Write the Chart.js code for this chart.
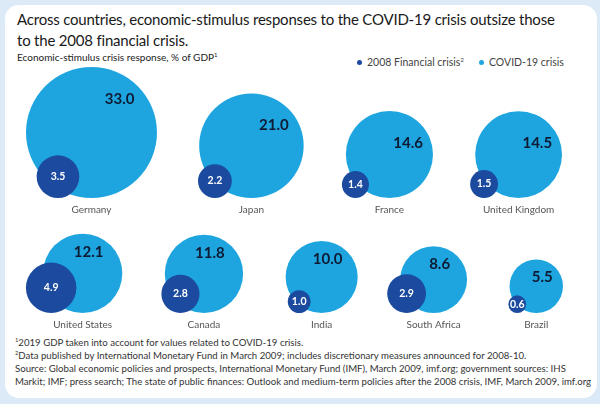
<!DOCTYPE html>
<html>
<head>
<meta charset="utf-8">
<script src="https://cdn.jsdelivr.net/npm/chart.js@4.4.1/dist/chart.umd.min.js"></script>
<style>
  html, body { margin: 0; padding: 0; }
  body { width: 600px; height: 404px; background: #dce9f6; position: relative; overflow: hidden; font-family: Lato, "Open Sans", sans-serif; }
  #card { position: absolute; left: 5px; top: 5px; right: 3px; bottom: 6px; background: #fff; border-radius: 14px; }
  #title { position: absolute; left: 17px; top: 9px; font-size: 15px; letter-spacing: -0.2px; line-height: 21px; color: #1a1a1a; white-space: nowrap; }
  #sub { position: absolute; left: 17px; top: 51px; font-size: 10px; color: #222; white-space: nowrap; }
  #legend { position: absolute; left: 357px; top: 56px; font-size: 10.5px; color: #444; white-space: nowrap; }
  #legend span.dot { display: inline-block; width: 5px; height: 5px; border-radius: 50%; margin-right: 5px; vertical-align: 1px; }
  #legend .item { margin-right: 15px; }
  #notes { position: absolute; left: 15px; top: 336px; font-size: 9.65px; line-height: 13px; color: #333; white-space: nowrap; }
  sup { font-size: 60%; vertical-align: 4px; line-height: 0; }
  #wrap { position: absolute; left: 0; top: 0; width: 600px; height: 404px; }
</style>
</head>
<body>
<div id="card"></div>
<div id="title">Across countries, economic-stimulus responses to the COVID-19 crisis outsize those<br>to the 2008 financial crisis.</div>
<div id="sub">Economic-stimulus crisis response, % of GDP<sup>1</sup></div>
<div id="legend"><span class="item"><span class="dot" style="background:#1c4a9e"></span>2008 Financial crisis<sup>2</sup></span><span><span class="dot" style="background:#1ea5df"></span>COVID-19 crisis</span></div>
<div id="notes">
<sup>1</sup>2019 GDP taken into account for values related to COVID-19 crisis.<br>
<sup>2</sup>Data published by International Monetary Fund in March 2009; includes discretionary measures announced for 2008-10.<br>
Source: Global economic policies and prospects, International Monetary Fund (IMF), March 2009, imf.org; government sources: IHS<br>
Markit; IMF; press search; The state of public finances: Outlook and medium-term policies after the 2008 crisis, IMF, March 2009, imf.org
</div>
<div id="wrap"><canvas id="bubbles"></canvas></div>
<script>
var countries = ['Germany', 'Japan', 'France', 'United Kingdom', 'United States', 'Canada', 'India', 'South Africa', 'Brazil'];
var covid = [33.0, 21.0, 14.6, 14.5, 12.1, 11.8, 10.0, 8.6, 5.5];
var crisis2008 = [3.5, 2.2, 1.4, 1.5, 4.9, 2.8, 1.0, 2.9, 0.6];

// layout (pixels)
var k = 11.4;                         // radius = k * sqrt(value)
var rows = [[0, 1, 2, 3], [4, 5, 6, 7, 8]];
var rowEdges = [[26, 562], [43, 563]];
var rowBottom = [198, 313];
var smallShift = [-33.5, -36.5, -34, -34.5, -31.5, -23.5, -22.5, -27, -19];
var valueOffset = [function (r) { return [0.43 * r, 32]; }, function (r) { return [6, 18]; }];

function rad(v) { return k * Math.sqrt(v); }

var bigPts = [], smallPts = [], rowOf = [];
rows.forEach(function (row, ri) {
    var total = 0;
    row.forEach(function (i) { total += 2 * rad(covid[i]); });
    var gap = (rowEdges[ri][1] - rowEdges[ri][0] - total) / (row.length - 1);
    var x = rowEdges[ri][0];
    row.forEach(function (i) {
        var R = rad(covid[i]), r = rad(crisis2008[i]);
        bigPts[i] = { x: x + R, y: rowBottom[ri] - R, r: R };
        smallPts[i] = { x: x + R + smallShift[i], y: rowBottom[ri] - r, r: r };
        rowOf[i] = ri;
        x += 2 * R + gap;
    });
});

var labelPlugin = {
    id: 'labels',
    afterDatasetsDraw: function (chart) {
        var ctx = chart.ctx;
        var big = chart.getDatasetMeta(1).data;
        var small = chart.getDatasetMeta(0).data;
        ctx.save();
        ctx.textAlign = 'center';
        ctx.textBaseline = 'middle';
        countries.forEach(function (name, i) {
            var b = big[i], s = small[i];
            var R = bigPts[i].r;
            var off = valueOffset[rowOf[i]](R);
            ctx.fillStyle = '#0d1b33';
            ctx.font = 'bold 15px Lato';
            ctx.fillText(covid[i].toFixed(1), b.x + off[0], b.y - R + off[1]);
            ctx.fillStyle = '#ffffff';
            ctx.font = 'bold 10.5px Lato';
            ctx.fillText(crisis2008[i].toFixed(1), s.x, s.y);
            ctx.fillStyle = '#555555';
            ctx.font = '10px Lato';
            ctx.fillText(name, b.x, b.y + R + 12);
        });
        ctx.restore();
    }
};

new Chart(document.getElementById('bubbles'), {
    type: 'bubble',
    data: {
        datasets: [{
            label: '2008 Financial crisis',
            data: smallPts,
            backgroundColor: '#1c4a9e',
            borderWidth: 0,
            clip: false
        }, {
            label: 'COVID-19 crisis',
            data: bigPts,
            backgroundColor: '#1ea5df',
            borderWidth: 0,
            clip: false
        }]
    },
    options: {
        responsive: true,
        maintainAspectRatio: false,
        animation: false,
        events: [],
        layout: { padding: 0, autoPadding: false },
        plugins: { legend: { display: false }, tooltip: { enabled: false } },
        scales: {
            x: { type: 'linear', min: 0, max: 600, display: false },
            y: { type: 'linear', min: 0, max: 404, reverse: true, display: false }
        }
    },
    plugins: [labelPlugin]
});
</script>
</body>
</html>
